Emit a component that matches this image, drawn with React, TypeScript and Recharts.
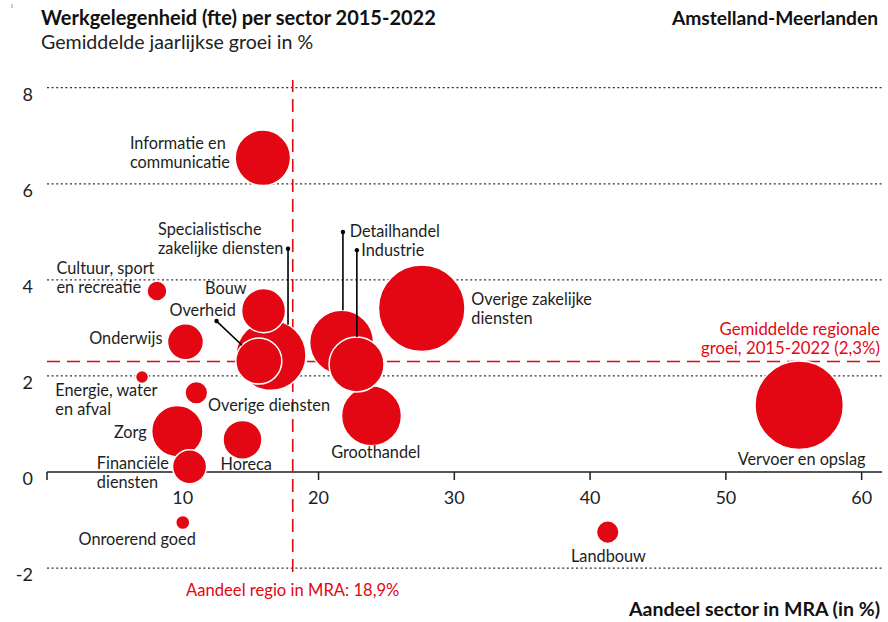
import React from 'react';
import {
  ScatterChart,
  Scatter,
  XAxis,
  YAxis,
  ZAxis,
  ReferenceLine,
  ReferenceDot,
} from 'recharts';

// ---------- data ----------
const sectors = [
  'Vervoer en opslag',
  'Overige zakelijke diensten',
  'Specialistische zakelijke diensten',
  'Detailhandel',
  'Groothandel',
  'Informatie en communicatie',
  'Industrie',
  'Zorg',
  'Overheid',
  'Bouw',
  'Horeca',
  'Onderwijs',
  'Financiële diensten',
  'Landbouw',
  'Overige diensten',
  'Cultuur, sport en recreatie',
  'Onroerend goed',
  'Energie, water en afval',
];
// Aandeel sector in MRA (%)
const shareInMRA = [55.4, 27.6, 16.5, 21.7, 23.9, 15.9, 22.8, 9.6, 15.6, 15.95, 14.4, 10.2, 10.5, 41.3, 11.0, 8.1, 10.0, 7.0];
// Gemiddelde jaarlijkse groei (%)
const avgGrowth = [1.39, 3.41, 2.43, 2.7, 1.17, 6.54, 2.24, 0.85, 2.31, 3.36, 0.67, 2.71, 0.11, -1.25, 1.65, 3.77, -1.05, 1.98];
// Werkgelegenheid (fte, x1000) - bubble size
const fteThousands = [97.7, 93.7, 61.3, 51.2, 45, 38.4, 37.8, 33, 26.5, 24.2, 19, 16.2, 14.5, 6.4, 6.4, 5, 2.5, 2.1];

const xTicks = [0, 10, 20, 30, 40, 50, 60];
const xTickLabels = ['', '10', '20', '30', '40', '50', '60'];
const yTicks = [-2, 0, 2, 4, 6, 8];
const yGridValues = [-2, 2, 4, 6, 8];
const regionShareLine = 18.1;
const regionalGrowth = 2.3;

const points = sectors.map((name, i) => ({
  name,
  x: shareInMRA[i],
  y: avgGrowth[i],
  z: fteThousands[i],
}));

// ---------- styles ----------
const RED = '#e30613';
const INK = '#1e1e1e';
const FONT = 'Lato, "Noto Sans", sans-serif';
const LABEL_SIZE = 16.3;
const LINE_H = 19;

type Leader = { kind: 'vertical' | 'diag'; dx: number; dy: number };
type LabelSpec = { lines: string[]; anchor: 'start' | 'middle' | 'end'; dx: number; dy: number; leader?: Leader };

const labelLayout: Record<string, LabelSpec> = {
  'Informatie en communicatie': { lines: ['Informatie en', 'communicatie'], anchor: 'start', dx: -133, dy: -8.5 },
  'Specialistische zakelijke diensten': {
    lines: ['Specialistische', 'zakelijke diensten'], anchor: 'start', dx: -113, dy: -120,
    leader: { kind: 'vertical', dx: 17, dy: -106.5 },
  },
  'Cultuur, sport en recreatie': { lines: ['Cultuur, sport', 'en recreatie'], anchor: 'start', dx: -100.5, dy: -16.8 },
  Bouw: { lines: ['Bouw'], anchor: 'end', dx: -17, dy: -16.7 },
  Overheid: { lines: ['Overheid'], anchor: 'end', dx: -23, dy: -45, leader: { kind: 'diag', dx: -42.3, dy: -40 } },
  Onderwijs: { lines: ['Onderwijs'], anchor: 'end', dx: -23, dy: 2.5 },
  'Energie, water en afval': { lines: ['Energie, water', 'en afval'], anchor: 'start', dx: -86.7, dy: 19.5 },
  'Overige diensten': { lines: ['Overige diensten'], anchor: 'start', dx: 11.7, dy: 18.5 },
  Zorg: { lines: ['Zorg'], anchor: 'end', dx: -30.6, dy: 7 },
  Horeca: { lines: ['Horeca'], anchor: 'start', dx: -22, dy: 30.5 },
  'Financiële diensten': { lines: ['Financiële', 'diensten'], anchor: 'start', dx: -92.7, dy: 2.3 },
  'Onroerend goed': { lines: ['Onroerend goed'], anchor: 'middle', dx: -45.6, dy: 22.3 },
  Detailhandel: {
    lines: ['Detailhandel'], anchor: 'start', dx: 8, dy: -105.3,
    leader: { kind: 'vertical', dx: 1.3, dy: -110.3 },
  },
  Industrie: {
    lines: ['Industrie'], anchor: 'start', dx: 4.7, dy: -108.3,
    leader: { kind: 'vertical', dx: 0.3, dy: -114.3 },
  },
  Groothandel: { lines: ['Groothandel'], anchor: 'middle', dx: 4.3, dy: 42 },
  'Overige zakelijke diensten': { lines: ['Overige zakelijke', 'diensten'], anchor: 'start', dx: 49.6, dy: -3.3 },
  'Vervoer en opslag': { lines: ['Vervoer en opslag'], anchor: 'middle', dx: 2.4, dy: 60 },
  Landbouw: { lines: ['Landbouw'], anchor: 'middle', dx: 0.7, dy: 29.7 },
};

const radiusOf = (p: any) =>
  p.width ? p.width / 2 : Math.sqrt(Math.max(p.size || 0, 0) / Math.PI);

const Bubble = (p: any) => (
  <circle cx={p.cx} cy={p.cy} r={radiusOf(p)} fill={RED} stroke="#ffffff" strokeWidth={1.5} />
);

const BubbleLabel = (p: any) => {
  const spec = labelLayout[p.payload?.name];
  if (!spec) return <g />;
  const r = radiusOf(p);
  const { cx, cy } = p;
  let leader = null;
  if (spec.leader) {
    const lx = cx + spec.leader.dx;
    const ly = cy + spec.leader.dy;
    let ex: number;
    let ey: number;
    if (spec.leader.kind === 'vertical') {
      ex = lx;
      ey = cy - Math.sqrt(Math.max(r * r - spec.leader.dx * spec.leader.dx, 0));
    } else {
      const d = Math.hypot(spec.leader.dx, spec.leader.dy);
      ex = cx + (spec.leader.dx * r) / d;
      ey = cy + (spec.leader.dy * r) / d;
    }
    leader = (
      <g>
        <line x1={lx} y1={ly} x2={ex} y2={ey} stroke="#000" strokeWidth={1.6} />
        <circle cx={lx} cy={ly} r={2.2} fill="#000" />
      </g>
    );
  }
  return (
    <g>
      {leader}
      <text
        x={cx + spec.dx}
        y={cy + spec.dy}
        textAnchor={spec.anchor}
        fontFamily={FONT}
        fontSize={LABEL_SIZE}
        fill={INK}
      >
        {spec.lines.map((ln, i) => (
          <tspan key={i} x={cx + spec.dx} y={cy + spec.dy + i * LINE_H}>
            {ln}
          </tspan>
        ))}
      </text>
    </g>
  );
};

const YTick = (p: any) => (
  <text x={p.x} y={p.y + 6} textAnchor="end" dominantBaseline="central" fontFamily={FONT} fontWeight={400} fontSize={18} fill={INK}>
    {p.payload.value}
  </text>
);

const XTickMark = (label: string) => (p: any) => (
  <g>
    <line x1={p.cx} y1={p.cy} x2={p.cx} y2={p.cy + 8} stroke={INK} strokeWidth={1.5} />
    {label ? (
      <text x={p.cx} y={p.cy + 32} textAnchor="middle" fontFamily={FONT} fontWeight={400} fontSize={18} fill={INK}>
        {label}
      </text>
    ) : null}
  </g>
);

const ShareLabel = (p: any) => {
  const vb = p.viewBox || {};
  return (
    <text x={vb.x} y={vb.y + vb.height + 24} textAnchor="middle" fontFamily={FONT} fontSize={16.6} fill={RED}>
      Aandeel regio in MRA: 18,9%
    </text>
  );
};

const GrowthLabel = (p: any) => {
  const vb = p.viewBox || {};
  const rx = vb.x + vb.width - 2;
  return (
    <text textAnchor="end" fontFamily={FONT} fontSize={16.8} fill={RED}>
      <tspan x={rx} y={vb.y - 27}>Gemiddelde regionale</tspan>
      <tspan x={rx} y={vb.y - 8}>groei, 2015-2022 (2,3%)</tspan>
    </text>
  );
};

export default function App() {
  return (
    <div style={{ position: 'absolute', left: 0, top: 0, width: 888, height: 622, background: '#fff' }}>
      <ScatterChart width={888} height={622} margin={{ top: 80, right: 6, bottom: 50, left: 0 }}>
        <XAxis type="number" dataKey="x" domain={[0, 61.5]} ticks={xTicks} hide allowDataOverflow />
        <YAxis
          type="number"
          dataKey="y"
          domain={[-2.08, 8.16]}
          ticks={yTicks}
          interval={0}
          width={47}
          axisLine={false}
          tickLine={false}
          tickSize={0}
          tickMargin={14}
          tick={<YTick />}
          allowDataOverflow
        />
        <ZAxis type="number" dataKey="z" domain={[0, 100]} range={[0, 6283.2]} />
        {yGridValues.map((v) => (
          <ReferenceLine key={`g${v}`} y={v} stroke="#333" strokeDasharray="2 2.6" strokeWidth={1.2} />
        ))}
        <ReferenceLine y={0} stroke={INK} strokeWidth={1.6} />
        {xTicks.map((v, i) => (
          <ReferenceDot key={v} x={v} y={0} r={0} shape={XTickMark(xTickLabels[i])} />
        ))}
        <ReferenceLine x={regionShareLine} stroke={RED} strokeDasharray="13 7" strokeWidth={1.6} label={<ShareLabel />} />
        <ReferenceLine y={regionalGrowth} stroke={RED} strokeDasharray="13 7" strokeWidth={1.6} label={<GrowthLabel />} />
        <Scatter data={points} shape={<Bubble />} isAnimationActive={false} />
        <Scatter data={points} shape={<BubbleLabel />} isAnimationActive={false} />
      </ScatterChart>
      <svg width={888} height={622} style={{ position: 'absolute', left: 0, top: 0, pointerEvents: 'none' }}>
        <line x1={12} y1={4} x2={12} y2={8} stroke="#999" strokeWidth={1} />
        <text x={41} y={25} fontFamily={FONT} fontWeight={700} fontSize={20} fill="#111">
          Werkgelegenheid (fte) per sector 2015-2022
        </text>
        <text x={41} y={49} fontFamily={FONT} fontSize={19.6} fill="#222">
          Gemiddelde jaarlijkse groei in %
        </text>
        <text x={878} y={25} textAnchor="end" fontFamily={FONT} fontWeight={700} fontSize={19.2} fill="#111">
          Amstelland-Meerlanden
        </text>
        <text x={880} y={616} textAnchor="end" fontFamily={FONT} fontWeight={700} fontSize={19.5} fill="#111">
          Aandeel sector in MRA (in %)
        </text>
      </svg>
    </div>
  );
}
